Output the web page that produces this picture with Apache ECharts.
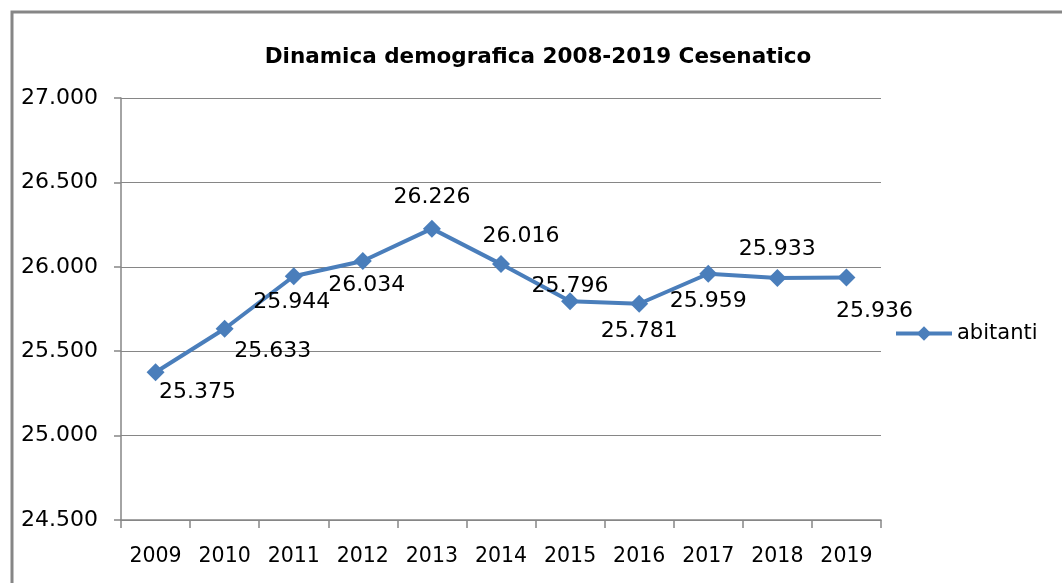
<!DOCTYPE html>
<html><head><meta charset="utf-8">
<script src="https://cdn.jsdelivr.net/npm/echarts@6/dist/echarts.min.js"></script>
<style>html,body{margin:0;padding:0;background:#fff}#c{width:1062px;height:583px}</style>
</head><body><div id="c"></div>
<script>
const years = ['2009','2010','2011','2012','2013','2014','2015','2016','2017','2018','2019'];
const abitanti = [25375,25633,25944,26034,26226,26016,25796,25781,25959,25933,25936];
const labelOffsets = [[42,20],[48,23],[-2,26],[4,24],[0,-31],[20,-28],[0,-15],[0,28],[0,28],[0,-29],[28,34]];
const yTicks = {min:24500, max:27000, interval:500};

function fmtThousands(v){ return Math.round(v).toString().replace(/\B(?=(\d{3})+(?!\d))/g,'.'); }

const chart = echarts.init(document.getElementById('c'), null, {renderer:'canvas'});
const font = 'DejaVu Sans';
chart.setOption({
  animation:false,
  backgroundColor:'#fff',
  textStyle:{fontFamily:font},
  title:{text:'Dinamica demografica 2008-2019 Cesenatico', left:533, top:41, textAlign:'center',
    textStyle:{fontFamily:font, fontWeight:'bold', fontSize:21.5, color:'#000'}},
  legend:{data:['abitanti'], left:889, top:318, padding:5, itemWidth:56, itemHeight:18, itemGap:4,
    lineStyle:{width:4},
    textStyle:{fontFamily:font, fontSize:21, color:'#000'}},
  grid:{left:121, right:181, top:98, bottom:63},
  xAxis:{type:'category', data:years, boundaryGap:true,
    axisLine:{lineStyle:{color:'#868686', width:1.5}},
    axisTick:{show:true, interval:0, length:8, lineStyle:{color:'#868686', width:1.5}},
    axisLabel:{fontFamily:font, fontSize:20.5, color:'#000', margin:26, interval:0, hideOverlap:false}},
  yAxis:{type:'value', min:yTicks.min, max:yTicks.max, interval:yTicks.interval,
    axisLine:{show:true, lineStyle:{color:'#868686', width:1.5}},
    axisTick:{show:true, length:7, lineStyle:{color:'#868686', width:1.5}},
    splitLine:{show:true, lineStyle:{color:'#868686', width:1.2}},
    axisLabel:{fontFamily:font, fontSize:22, color:'#000', margin:23,
      formatter:v=>Math.floor(v/1000)+'.'+String(v%1000).padStart(3,'0')}},
  series:[{
    name:'abitanti', type:'line',
    data:abitanti.map((v,i)=>({value:v, label:{offset:labelOffsets[i]}})),
    symbol:'diamond', symbolSize:18,
    lineStyle:{color:'#4a7ebb', width:4},
    itemStyle:{color:'#4a7ebb'},
    label:{show:true, position:'inside', fontFamily:font, fontSize:22, color:'#000',
      formatter:p=>fmtThousands(p.value)}
  }],
  graphic:[{type:'rect', shape:{x:12, y:12, width:1080, height:600},
    style:{fill:'none', stroke:'#868686', lineWidth:3}, silent:true}]
});
</script></body></html>
